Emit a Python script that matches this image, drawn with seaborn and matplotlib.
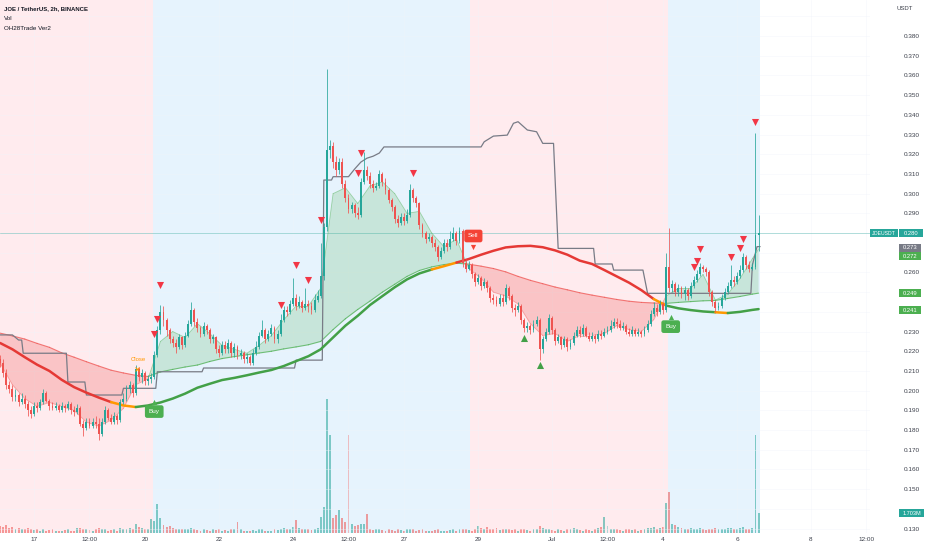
import numpy as np
import pandas as pd
import matplotlib.pyplot as plt
import seaborn as sns
from matplotlib.patches import Rectangle

# ---- candles (2h bars, bar 0 = 16 Jun 02:00) ----
closes = [
    0.214, 0.209, 0.203, 0.201, 0.197, 0.198, 0.194, 0.196, 0.193, 0.190,
    0.188, 0.192, 0.191, 0.194, 0.199, 0.195, 0.192, 0.191, 0.192, 0.190,
    0.192, 0.191, 0.193, 0.190, 0.189, 0.191, 0.183, 0.181, 0.184, 0.182,
    0.184, 0.183, 0.178, 0.184, 0.190, 0.186, 0.184, 0.187, 0.185, 0.194,
    0.196, 0.201, 0.203, 0.199, 0.211, 0.207, 0.209, 0.205, 0.206, 0.207,
    0.218, 0.231, 0.240, 0.236, 0.231, 0.226, 0.224, 0.222, 0.227, 0.223,
    0.228, 0.234, 0.241, 0.235, 0.232, 0.229, 0.233, 0.231, 0.226, 0.227,
    0.221, 0.219, 0.223, 0.221, 0.224, 0.219, 0.222, 0.218, 0.219, 0.216,
    0.217, 0.214, 0.219, 0.222, 0.228, 0.231, 0.226, 0.229, 0.232, 0.226,
    0.229, 0.236, 0.241, 0.240, 0.244, 0.247, 0.243, 0.245, 0.242, 0.244,
    0.243, 0.241, 0.246, 0.248, 0.258, 0.283, 0.322, 0.324, 0.316, 0.312,
    0.316, 0.305, 0.298, 0.292, 0.294, 0.290, 0.289, 0.306, 0.312, 0.309,
    0.305, 0.303, 0.304, 0.310, 0.306, 0.302, 0.297, 0.293, 0.287, 0.285,
    0.288, 0.286, 0.289, 0.302, 0.298, 0.295, 0.284, 0.280, 0.277, 0.278,
    0.275, 0.273, 0.268, 0.271, 0.275, 0.273, 0.277, 0.280, 0.276, 0.281,
    0.265, 0.262, 0.264, 0.259, 0.255, 0.257, 0.253, 0.255, 0.252, 0.247,
    0.246, 0.244, 0.247, 0.245, 0.252, 0.248, 0.242, 0.241, 0.243, 0.236,
    0.232, 0.233, 0.231, 0.234, 0.236, 0.221, 0.226, 0.230, 0.237, 0.231,
    0.225, 0.227, 0.223, 0.226, 0.222, 0.224, 0.228, 0.231, 0.229, 0.232,
    0.228, 0.226, 0.228, 0.226, 0.229, 0.228, 0.230, 0.231, 0.233, 0.235,
    0.234, 0.232, 0.233, 0.230, 0.229, 0.231, 0.229, 0.230, 0.229, 0.231,
    0.234, 0.239, 0.242, 0.240, 0.244, 0.241, 0.263, 0.252, 0.254, 0.250,
    0.252, 0.249, 0.251, 0.248, 0.253, 0.256, 0.259, 0.263, 0.262, 0.260,
    0.250, 0.245, 0.242, 0.243, 0.247, 0.250, 0.253, 0.256, 0.255, 0.258,
    0.261, 0.268, 0.264, 0.262, 0.263, 0.279, 0.280,
]
first_open = 0.216

highs = [
    0.218, 0.216, 0.211, 0.205, 0.203, 0.201, 0.199, 0.199, 0.198, 0.195,
    0.192, 0.194, 0.194, 0.196, 0.201, 0.200, 0.196, 0.194, 0.194, 0.193,
    0.194, 0.193, 0.195, 0.194, 0.192, 0.193, 0.192, 0.185, 0.186, 0.186,
    0.186, 0.187, 0.186, 0.186, 0.192, 0.191, 0.188, 0.189, 0.188, 0.196,
    0.199, 0.203, 0.205, 0.204, 0.213, 0.212, 0.211, 0.210, 0.208, 0.209,
    0.220, 0.233, 0.2435, 0.243, 0.237, 0.232, 0.228, 0.226, 0.229, 0.228,
    0.230, 0.236, 0.245, 0.242, 0.237, 0.233, 0.235, 0.234, 0.232, 0.229,
    0.228, 0.223, 0.225, 0.225, 0.226, 0.225, 0.224, 0.223, 0.221, 0.220,
    0.219, 0.218, 0.221, 0.225, 0.230, 0.236, 0.232, 0.231, 0.234, 0.233,
    0.231, 0.239, 0.243, 0.243, 0.246, 0.257, 0.249, 0.248, 0.246, 0.252,
    0.246, 0.245, 0.249, 0.251, 0.275, 0.285, 0.363, 0.327, 0.326, 0.319,
    0.318, 0.318, 0.307, 0.300, 0.296, 0.295, 0.293, 0.308, 0.321, 0.314,
    0.311, 0.307, 0.306, 0.312, 0.311, 0.308, 0.303, 0.298, 0.294, 0.289,
    0.290, 0.290, 0.292, 0.305, 0.303, 0.299, 0.296, 0.285, 0.281, 0.280,
    0.279, 0.277, 0.274, 0.273, 0.277, 0.277, 0.281, 0.283, 0.281, 0.283,
    0.282, 0.267, 0.266, 0.265, 0.260, 0.259, 0.258, 0.257, 0.256, 0.253,
    0.249, 0.248, 0.249, 0.249, 0.254, 0.253, 0.249, 0.244, 0.245, 0.244,
    0.237, 0.235, 0.234, 0.236, 0.238, 0.237, 0.228, 0.232, 0.239, 0.238,
    0.232, 0.229, 0.228, 0.228, 0.227, 0.226, 0.230, 0.233, 0.233, 0.234,
    0.233, 0.230, 0.230, 0.229, 0.231, 0.231, 0.232, 0.233, 0.236, 0.237,
    0.237, 0.236, 0.235, 0.234, 0.232, 0.233, 0.232, 0.232, 0.231, 0.233,
    0.236, 0.241, 0.245, 0.244, 0.246, 0.245, 0.270, 0.2825, 0.256, 0.255,
    0.254, 0.253, 0.253, 0.252, 0.255, 0.258, 0.261, 0.265, 0.264, 0.263,
    0.261, 0.251, 0.246, 0.245, 0.249, 0.252, 0.255, 0.264, 0.258, 0.260,
    0.264, 0.270, 0.269, 0.266, 0.265, 0.331, 0.289,
]

lows = [
    0.212, 0.207, 0.201, 0.199, 0.195, 0.195, 0.192, 0.193, 0.191, 0.187,
    0.186, 0.187, 0.189, 0.190, 0.193, 0.194, 0.190, 0.190, 0.190, 0.189,
    0.189, 0.189, 0.190, 0.188, 0.187, 0.188, 0.182, 0.177, 0.180, 0.181,
    0.181, 0.181, 0.175, 0.177, 0.183, 0.185, 0.183, 0.183, 0.183, 0.184,
    0.193, 0.195, 0.199, 0.197, 0.198, 0.205, 0.204, 0.203, 0.203, 0.204,
    0.206, 0.217, 0.229, 0.233, 0.228, 0.224, 0.222, 0.219, 0.221, 0.221,
    0.222, 0.227, 0.233, 0.233, 0.230, 0.227, 0.228, 0.229, 0.224, 0.224,
    0.219, 0.217, 0.218, 0.219, 0.219, 0.217, 0.217, 0.216, 0.216, 0.214,
    0.214, 0.213, 0.213, 0.218, 0.221, 0.227, 0.224, 0.225, 0.228, 0.224,
    0.224, 0.228, 0.235, 0.238, 0.239, 0.243, 0.241, 0.242, 0.240, 0.241,
    0.240, 0.239, 0.240, 0.245, 0.247, 0.256, 0.281, 0.318, 0.313, 0.309,
    0.310, 0.303, 0.296, 0.290, 0.290, 0.288, 0.287, 0.288, 0.305, 0.307,
    0.303, 0.301, 0.302, 0.303, 0.304, 0.300, 0.295, 0.291, 0.285, 0.283,
    0.284, 0.284, 0.285, 0.288, 0.296, 0.293, 0.282, 0.278, 0.275, 0.276,
    0.273, 0.271, 0.266, 0.267, 0.270, 0.271, 0.272, 0.276, 0.274, 0.275,
    0.263, 0.260, 0.261, 0.257, 0.253, 0.254, 0.251, 0.252, 0.250, 0.245,
    0.244, 0.243, 0.243, 0.243, 0.244, 0.246, 0.240, 0.238, 0.240, 0.234,
    0.230, 0.230, 0.229, 0.230, 0.233, 0.2155, 0.219, 0.225, 0.229, 0.229,
    0.223, 0.224, 0.221, 0.222, 0.220, 0.221, 0.223, 0.227, 0.227, 0.228,
    0.227, 0.225, 0.225, 0.224, 0.225, 0.226, 0.227, 0.229, 0.230, 0.232,
    0.232, 0.231, 0.231, 0.229, 0.228, 0.228, 0.228, 0.228, 0.227, 0.228,
    0.230, 0.233, 0.238, 0.238, 0.239, 0.239, 0.240, 0.250, 0.250, 0.248,
    0.248, 0.247, 0.246, 0.246, 0.247, 0.252, 0.255, 0.258, 0.260, 0.258,
    0.248, 0.243, 0.240, 0.241, 0.242, 0.246, 0.249, 0.252, 0.253, 0.254,
    0.257, 0.260, 0.262, 0.260, 0.261, 0.262, 0.271,
]

# volume in millions
volumes = [
    0.6, 0.5, 0.7, 0.4, 0.5, 0.3, 0.4, 0.3, 0.35, 0.4,
    0.3, 0.25, 0.3, 0.2, 0.35, 0.2, 0.25, 0.3, 0.2, 0.15,
    0.2, 0.25, 0.3, 0.2, 0.15, 0.4, 0.45, 0.3, 0.35, 0.25,
    0.2, 0.3, 0.45, 0.35, 0.3, 0.2, 0.25, 0.3, 0.2, 0.4,
    0.35, 0.3, 0.4, 0.3, 0.8, 0.5, 0.45, 0.35, 0.3, 1.2,
    1.0, 2.5, 1.3, 0.7, 0.5, 0.6, 0.4, 0.3, 0.35, 0.3,
    0.3, 0.35, 0.4, 0.3, 0.25, 0.2, 0.3, 0.25, 0.2, 0.3,
    0.25, 0.3, 0.2, 0.25, 0.2, 0.3, 0.35, 0.9, 0.3, 0.2,
    0.2, 0.15, 0.25, 0.2, 0.3, 0.35, 0.2, 0.15, 0.2, 0.3,
    0.25, 0.35, 0.4, 0.3, 0.35, 0.5, 1.1, 0.4, 0.3, 0.35,
    0.3, 0.25, 0.3, 0.4, 1.4, 2.2, 11.4, 8.4, 1.3, 1.5,
    2.0, 1.3, 0.9, 8.4, 0.8, 0.6, 0.7, 0.8, 0.8, 1.6,
    0.3, 0.25, 0.3, 0.35, 0.25, 0.2, 0.3, 0.25, 0.2, 0.3,
    0.25, 0.2, 0.3, 0.35, 0.3, 0.2, 0.25, 0.3, 0.2, 0.15,
    0.2, 0.25, 0.3, 0.2, 0.15, 0.2, 0.25, 0.3, 0.2, 0.3,
    0.35, 0.3, 0.25, 0.2, 0.3, 0.6, 0.4, 0.3, 0.5, 0.35,
    0.3, 0.4, 0.25, 0.3, 0.35, 0.3, 0.25, 0.3, 0.2, 0.35,
    0.3, 0.25, 0.2, 0.3, 0.35, 0.6, 0.4, 0.3, 0.35, 0.25,
    0.2, 0.3, 0.25, 0.2, 0.3, 0.35, 0.4, 0.3, 0.25, 0.2,
    0.3, 0.25, 0.2, 0.3, 0.4, 0.5, 1.4, 0.6, 0.3, 0.35,
    0.3, 0.25, 0.2, 0.3, 0.35, 0.25, 0.3, 0.2, 0.25, 0.3,
    0.4, 0.45, 0.5, 0.3, 0.4, 0.5, 2.6, 3.5, 0.8, 0.7,
    0.5, 0.4, 0.35, 0.3, 0.4, 0.35, 0.3, 0.4, 0.3, 0.25,
    0.35, 0.3, 0.4, 0.3, 0.35, 0.3, 0.4, 0.45, 0.3, 0.35,
    0.4, 0.5, 0.35, 0.3, 0.4, 8.4, 1.7,
]

# ---- indicator lines, sampled every 4 bars ----
ma_bars = list(range(0, 245, 4)) + [246]
thick_ma = [
    0.2242, 0.2210, 0.2170, 0.2132, 0.2100, 0.2055, 0.2018, 0.1990, 0.1965, 0.1942,
    0.1925, 0.1917, 0.1925, 0.1940, 0.1960, 0.1985, 0.2015, 0.2035, 0.2054, 0.2065,
    0.2078, 0.2092, 0.2105, 0.2125, 0.2150, 0.2175, 0.2210, 0.2270, 0.2330, 0.2380,
    0.2435, 0.2480, 0.2525, 0.2565, 0.2595, 0.2615, 0.2632, 0.2650, 0.2668, 0.2690,
    0.2710, 0.2727, 0.2733, 0.2735, 0.2728, 0.2712, 0.2690, 0.2660, 0.2643, 0.2612,
    0.2580, 0.2548, 0.2510, 0.2465, 0.2432, 0.2418, 0.2409, 0.2402, 0.2398, 0.2394,
    0.2400, 0.2410, 0.2414,
]
slow_ma = [
    0.2292, 0.2278, 0.2262, 0.2240, 0.2220, 0.2192, 0.2170, 0.2147, 0.2125, 0.2104,
    0.2090, 0.2078, 0.2072, 0.2095, 0.2108, 0.2120, 0.2130, 0.2148, 0.2163, 0.2173,
    0.2182, 0.2191, 0.2200, 0.2212, 0.2222, 0.2233, 0.2250, 0.2310, 0.2365, 0.2412,
    0.2455, 0.2500, 0.2540, 0.2580, 0.2610, 0.2628, 0.2640, 0.2647, 0.2642, 0.2632,
    0.2620, 0.2603, 0.2580, 0.2560, 0.2543, 0.2526, 0.2512, 0.2497, 0.2485, 0.2474,
    0.2463, 0.2454, 0.2448, 0.2445, 0.2443, 0.2448, 0.2452, 0.2456, 0.2458, 0.2468,
    0.2478, 0.2490, 0.2495,
]
fast_ma = [
    0.214, 0.203, 0.196, 0.192, 0.194, 0.192, 0.190, 0.184, 0.182, 0.185,
    0.191, 0.203, 0.206, 0.225, 0.230, 0.227, 0.234, 0.229, 0.223, 0.221,
    0.219, 0.223, 0.228, 0.236, 0.243, 0.243, 0.252, 0.300, 0.303, 0.295,
    0.304, 0.306, 0.300, 0.290, 0.291, 0.280, 0.273, 0.277, 0.262, 0.257,
    0.250, 0.248, 0.244, 0.234, 0.228, 0.229, 0.225, 0.228, 0.228, 0.229,
    0.233, 0.231, 0.230, 0.236, 0.248, 0.252, 0.252, 0.259, 0.246, 0.249,
    0.257, 0.267, 0.272,
]
# colour runs of the thick line (start, end index in ma_bars)
thick_runs = [
    ("red", 0, 9), ("orange", 9, 11), ("green", 11, 35), ("orange", 35, 37),
    ("red", 37, 53), ("orange", 53, 54), ("green", 54, 58), ("orange", 58, 59),
    ("green", 59, 62),
]

# grey trailing line
grey_bars = [0, 4, 6, 7, 7.5, 21.5, 22, 27.5, 28, 39.5, 40, 50.5, 51, 65.5, 66,
             95.5, 96, 104.5, 105, 107.5, 108, 113, 115, 117, 119, 121, 123, 124.5,
             156, 157, 160, 164.5, 166.5, 168, 171, 174, 176, 179.5, 181, 192.5, 193,
             198.5, 199, 208.5, 210, 243.5, 244, 245.5, 246.5]
grey_vals = [0.2283, 0.2283, 0.2257, 0.2257, 0.2190, 0.2190, 0.2044, 0.2044, 0.1978,
             0.1978, 0.2012, 0.2012, 0.2096, 0.2096, 0.2115, 0.2115, 0.2155, 0.2155,
             0.3069, 0.3069, 0.3086, 0.3086, 0.3125, 0.3160, 0.3180, 0.3190, 0.3206,
             0.3237, 0.3237, 0.3263, 0.3292, 0.3297, 0.3357, 0.3365, 0.3323, 0.3314,
             0.3255, 0.3255, 0.2722, 0.2722, 0.2643, 0.2643, 0.2612, 0.2612, 0.2494,
             0.2494, 0.2638, 0.2731, 0.2731]

# signal markers
top_mark_bars = [50, 51, 52, 91, 96, 100, 104, 116, 117, 134, 225, 226, 227, 237, 240, 241, 245]
top_mark_prices = [0.2287, 0.2363, 0.2536, 0.2435, 0.2638, 0.2561, 0.2866, 0.3105, 0.3206,
                   0.3105, 0.2627, 0.2658, 0.2719, 0.2678, 0.2724, 0.2770, 0.3363]
bottom_mark_bars = [170, 175]
bottom_mark_prices = [0.2265, 0.2130]

# background regimes (start bar edge, end bar edge)
regimes = [("red", -0.5, 49.5), ("blue", 49.5, 152.5), ("red", 152.5, 216.5), ("blue", 216.5, 246.5)]

date_bars = [11, 29, 47, 71, 95, 113, 131, 155, 179, 197, 215, 239, 263, 281]
date_labels = ["17", "12:00", "20", "22", "24", "12:00", "27", "29", "Jul", "12:00", "4", "6", "8", "12:00"]

last_price = 0.280

assert len(closes) == len(highs) == len(lows) == len(volumes) == 247
assert len(thick_ma) == len(slow_ma) == len(fast_ma) == len(ma_bars)

# ---- styling ----
sns.set_theme(style="white")
plt.rcParams['font.family'] = ['Liberation Sans', 'DejaVu Sans']
TXT = '#3b3f4a'
UP, DOWN = '#26a69a', '#ef5350'
LINE_COL = {"red": '#e53935', "green": '#43a047', "orange": '#ff9800'}
BG_COL = {"red": '#ffebee', "blue": '#e6f3fd'}

bars = np.arange(len(closes))
c = np.array(closes)
o = np.concatenate([[first_open], c[:-1]])
cols = [UP if cc >= oo else DOWN for oo, cc in zip(o, c)]

fig = plt.figure(figsize=(9.32, 5.5), dpi=100)
ax = fig.add_axes([0, 17 / 550, 870 / 932, 533 / 550])
ax2 = ax.twinx()
ax2.set_zorder(1)
ax.set_zorder(2)
ax.patch.set_visible(False)

# background + volume on the lower axes
for name, a, b in regimes:
    ax2.axvspan(a, b, color=BG_COL[name], lw=0, zorder=0)
ax2.bar(bars, volumes, width=0.62, color=cols, alpha=0.55, lw=0, zorder=1)
ax2.set_ylim(0, 45.5)
ax2.set_yticks([])
for s in ax2.spines.values():
    s.set_visible(False)

# fill between fast and slow
mb = np.array(ma_bars)
fa = np.array(fast_ma)
sl = np.array(slow_ma)
ax.fill_between(mb, fa, sl, where=fa >= sl, interpolate=True, color='#4caf50', alpha=0.2, lw=0, zorder=1)
ax.fill_between(mb, fa, sl, where=fa < sl, interpolate=True, color='#ef5350', alpha=0.25, lw=0, zorder=1)
for k in range(len(mb) - 1):
    up = (fa[k] + fa[k + 1]) >= (sl[k] + sl[k + 1])
    col = '#4caf50' if up else '#ef5350'
    ax.plot(mb[k:k + 2], sl[k:k + 2], color=col, lw=0.8, alpha=0.75, zorder=2)
    ax.plot(mb[k:k + 2], fa[k:k + 2], color=col, lw=0.6, alpha=0.45, zorder=2)

# grey trailing line
sns.lineplot(x=grey_bars, y=grey_vals, estimator=None, sort=False, color='#787b86',
             linewidth=0.9, ax=ax, zorder=2)

# thick MA
for name, k0, k1 in thick_runs:
    sns.lineplot(x=ma_bars[k0:k1 + 1], y=thick_ma[k0:k1 + 1], estimator=None, sort=False,
                 color=LINE_COL[name], linewidth=1.8, solid_capstyle='round', ax=ax, zorder=2.5)

# last price line
ax.axhline(last_price, color=UP, alpha=0.35, lw=0.7, zorder=1.5)

# candles
ax.vlines(bars, lows, highs, colors=cols, lw=0.55, zorder=3)
ax.bar(bars, c - o, bottom=o, width=0.62, color=cols, lw=0, zorder=3.1)

# markers
sns.scatterplot(x=top_mark_bars, y=top_mark_prices, marker='v', s=26, color='#f23645',
                linewidth=0, ax=ax, zorder=5)
sns.scatterplot(x=bottom_mark_bars, y=bottom_mark_prices, marker='^', s=26, color='#43a047',
                linewidth=0, ax=ax, zorder=5)

# Buy / Sell / Close labels
def signal_box(xb, yp, text, fc, ptr_y, ptr_marker):
    ax.scatter([xb], [ptr_y], marker=ptr_marker, s=14, color=fc, lw=0, zorder=6)
    ax.text(xb, yp, text, ha='center', va='center', color='white', fontsize=4.6, zorder=7,
            bbox=dict(boxstyle='round,pad=0.6,rounding_size=0.35', fc=fc, ec='none'))

signal_box(50, 0.1894, "Buy", '#4caf50', 0.1945, '^')
signal_box(217.5, 0.2325, "Buy", '#4caf50', 0.2376, '^')
signal_box(153.5, 0.2785, "Sell", '#f44336', 0.2730, 'v')
ax.scatter([44.4], [0.2112], marker='x', s=8, color='#ff9800', lw=0.7, zorder=6)
ax.text(44.9, 0.2160, "Close", ha='center', va='center', color='#ff9800', fontsize=4.3, zorder=6)

# axes
ax.set_xlim(-0.026, 282.14)
ax.set_ylim(0.12777, 0.39827)
price_ticks = [round(0.13 + 0.01 * i, 2) for i in range(27)]
hidden = {0.14, 0.24, 0.25, 0.27, 0.28, 0.39}
ax.set_yticks(price_ticks)
ax.set_yticklabels(["" if t in hidden else f"{t:.3f}" for t in price_ticks])
ax.yaxis.tick_right()
ax.tick_params(axis='y', length=0, pad=24, labelsize=4.6, labelcolor=TXT)
ax.set_xticks(date_bars)
ax.set_xticklabels(date_labels)
ax.tick_params(axis='x', length=0, pad=3, labelsize=4.6, labelcolor=TXT)
ax.grid(True, color='#f0f3fa', lw=0.5, alpha=0.55, zorder=0.5)
ax.set_axisbelow(True)
for s in ax.spines.values():
    s.set_visible(False)
ax.set_xlabel("")
ax.set_ylabel("")

# right-hand price tags
ytr = ax.get_yaxis_transform()
tag_h = 8 / 1970
def tag(x0, w, yp, text, fc, fs=4.2):
    ax.add_patch(Rectangle((x0, yp - tag_h / 2), w, tag_h, transform=ytr, clip_on=False,
                           fc=fc, ec='none', zorder=8))
    ax.text(x0 + w / 2, yp, text, transform=ytr, ha='center', va='center', color='white',
            fontsize=fs, zorder=9, clip_on=False)

tag(1.0, 28 / 870, last_price, "JOEUSDT", UP, fs=3.7)
tag(899 / 870, 24 / 870, last_price, "0.280", UP)
tag(899 / 870, 22 / 870, 0.2725, "0.273", '#787b86')
tag(899 / 870, 22 / 870, 0.2683, "0.272", '#4caf50')
tag(899 / 870, 22 / 870, 0.2494, "0.249", '#4caf50')
tag(899 / 870, 22 / 870, 0.2409, "0.241", '#4caf50')
tag(899 / 870, 25 / 870, 0.1379, "1.703M", UP, fs=4.0)

# header texts
fig.text(905 / 932, 1 - 8 / 550, "USDT", ha='center', va='center', fontsize=4.3, color=TXT)
fig.text(4 / 932, 1 - 9 / 550, "JOE / TetherUS, 2h, BINANCE", ha='left', va='center',
         fontsize=4.3, fontweight='bold', color='#131722')
fig.text(4 / 932, 1 - 19 / 550, "Vol", ha='left', va='center', fontsize=4.5, color='#131722')
fig.text(4 / 932, 1 - 29 / 550, "OH28Trade Ver2", ha='left', va='center', fontsize=4.5, color='#131722')

fig.savefig("out.png", dpi=100)
